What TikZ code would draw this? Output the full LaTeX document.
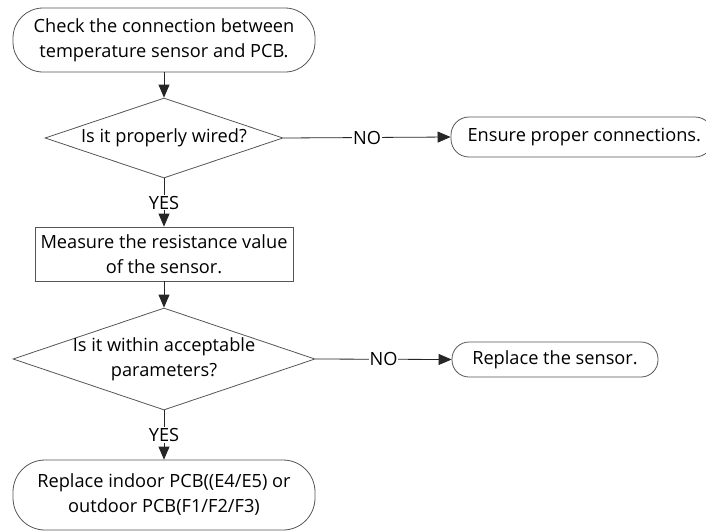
\documentclass[tikz,border=0pt]{standalone}
\usepackage{fontspec}
\setmainfont{Open Sans}
\usetikzlibrary{shapes.geometric,arrows.meta}
\definecolor{edge}{HTML}{555555}
\begin{document}
\begin{tikzpicture}[x=1pt,y=-1pt,
  every node/.style={font=\fontsize{18.2}{25}\selectfont, text=black},
  term/.style={draw=edge, line width=0.8pt, rounded corners=26pt, align=center, inner sep=0pt},
  procbox/.style={draw=edge, line width=0.8pt, align=center, inner sep=0pt},
  dia/.style={diamond, draw=edge, line width=0.8pt, inner sep=0pt, shape aspect=3},
  conn/.style={line width=0.8pt, draw=black!85},
  arr/.style={conn, -{Triangle[width=11pt,length=13pt]}},
  lab/.style={fill=white, inner sep=1pt}
]
\useasboundingbox (0,0) rectangle (706,531);
\begin{scope}
\clip (0,0) rectangle (706,531);
\node[term, rounded corners=30pt, minimum width=302pt, minimum height=64pt] (start) at (164,40)
  {Check the connection between\\temperature sensor and PCB.};
\node[dia, minimum width=238pt, minimum height=80pt] (d1) at (164,138) {};
\node at (d1) {Is it properly wired?};
\node[term, rounded corners=18pt, minimum width=262pt, minimum height=40pt] (ens) at (582,137) {};
\node[anchor=west] at (464,137) {Ensure proper connections.};
\node[procbox, minimum width=258pt, minimum height=54pt] (meas) at (164,254)
  {Measure the resistance value\\of the sensor.};
\node[dia, minimum width=302pt, minimum height=102pt] (d2) at (164,359) {};
\node[align=center] at (d2) {Is it within acceptable\\parameters?};
\node[term, rounded corners=17pt, minimum width=206pt, minimum height=35pt] (rep) at (555,359.5)
  {Replace the sensor.};
\node[term, rounded corners=32pt, minimum width=302pt, minimum height=70pt] (fin) at (164,495)
  {Replace indoor PCB((E4/E5) or\\outdoor PCB(F1/F2/F3)};
\draw[arr] (start) -- (d1.north);
\draw[arr] (d1.east) -- node[lab]{NO} (ens.west);
\draw[arr] (d1.south) -- node[lab]{YES} (meas.north);
\draw[arr] (meas) -- (d2.north);
\draw[arr] (d2.east) -- node[lab]{NO} (rep.west);
\draw[arr] (d2.south) -- node[lab]{YES} (fin.north);
\end{scope}
\end{tikzpicture}
\end{document}
